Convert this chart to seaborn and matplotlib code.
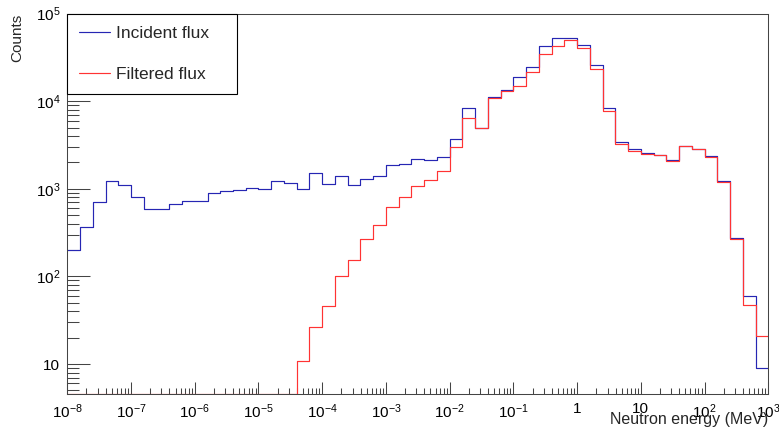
import numpy as np
import pandas as pd
import matplotlib
matplotlib.use("Agg")
import matplotlib.pyplot as plt
import seaborn as sns
from matplotlib.ticker import FixedLocator, FixedFormatter, LogLocator, NullFormatter

# ---------------- data (counts per bin, 5 log bins per decade, 1e-8 .. 1e3 MeV) ----------------
incident_flux = [200, 368, 705, 1234, 1102, 804, 591, 591, 664, 724,
                 724, 900, 934, 967, 1010, 984, 1234, 1152, 993, 1523,
                 1122, 1386, 1102, 1280, 1407, 1878, 1914, 2183, 2127, 2303,
                 3664, 8490, 4890, 11220, 13280, 18690, 24320, 42260, 52970, 52970,
                 44460, 25820, 8280, 3390, 2818, 2537, 2405, 2127, 3097, 2866,
                 2360, 1225, 272, 59.6, 9.06]
filtered_flux = [0, 0, 0, 0, 0, 0, 0, 0, 0, 0,
                 0, 0, 0, 0, 0, 0, 0, 0, 10.8, 26.6,
                 46.1, 102, 153, 267, 385, 624, 798, 1065, 1257, 1603,
                 3013, 6470, 4890, 10940, 12940, 15140, 21320, 34530, 42580, 49820,
                 40110, 23070, 7770, 3238, 2716, 2490, 2405, 2054, 3097, 2866,
                 2317, 1192, 267, 47, 20.8]
series_names = ["Incident flux", "Filtered flux"]
energy_log_range = (-8, 3)
n_bins = 55
count_range = (4.55, 1e5)

xtick_values = [1e-8, 1e-7, 1e-6, 1e-5, 1e-4, 1e-3, 1e-2, 1e-1, 1, 10, 1e2, 1e3]
xtick_labels = [r"$10^{-8}$", r"$10^{-7}$", r"$10^{-6}$", r"$10^{-5}$", r"$10^{-4}$",
                r"$10^{-3}$", r"$10^{-2}$", r"$10^{-1}$", "1", "10",
                r"$10^{2}$", r"$10^{3}$"]
ytick_values = [10, 1e2, 1e3, 1e4, 1e5]
ytick_labels = ["10", r"$10^{2}$", r"$10^{3}$", r"$10^{4}$", r"$10^{5}$"]

# ---------------- style ----------------
sns.set_theme(style="white")
plt.rcParams["font.family"] = ["Liberation Sans", "DejaVu Sans"]
plt.rcParams["mathtext.fontset"] = "custom"
plt.rcParams["mathtext.rm"] = "Liberation Sans"
plt.rcParams["mathtext.it"] = "Liberation Sans:italic"
plt.rcParams["mathtext.bf"] = "Liberation Sans:bold"

fig = plt.figure(figsize=(7.79, 4.32), dpi=100)
ax = fig.add_axes([0.0864, 0.088, 0.8999, 0.8803])

edges = np.logspace(energy_log_range[0], energy_log_range[1], n_bins + 1)


def step_frame(counts, name):
    c = np.asarray(counts, dtype=float)
    c = np.where(c > 0, c, count_range[0])  # empty bins drawn on the axis floor
    return pd.DataFrame({"energy": edges, "counts": np.append(c, c[-1]), "series": name})


colors = ["#2626b3", "#ff3333"]
for counts, name, col in zip([incident_flux, filtered_flux], series_names, colors):
    sns.lineplot(data=step_frame(counts, name), x="energy", y="counts",
                 drawstyle="steps-post", color=col, linewidth=0.85,
                 estimator=None, label=name, ax=ax)

ax.set_xscale("log")
ax.set_yscale("log")
ax.set_xlim(10 ** energy_log_range[0], 10 ** energy_log_range[1])
ax.set_ylim(*count_range)

ax.xaxis.set_major_locator(FixedLocator(xtick_values))
ax.xaxis.set_major_formatter(FixedFormatter(xtick_labels))
ax.xaxis.set_minor_locator(LogLocator(base=10, subs=np.arange(2, 10), numticks=100))
ax.xaxis.set_minor_formatter(NullFormatter())
ax.yaxis.set_major_locator(FixedLocator(ytick_values))
ax.yaxis.set_major_formatter(FixedFormatter(ytick_labels))
ax.yaxis.set_minor_locator(LogLocator(base=10, subs=np.arange(2, 10), numticks=100))
ax.yaxis.set_minor_formatter(NullFormatter())

tick_col = "#444444"
ax.tick_params(axis="x", which="major", direction="in", length=8.4, width=0.75,
               color=tick_col, labelcolor="black", labelsize=11, pad=6,
               top=False, bottom=True)
ax.tick_params(axis="x", which="minor", direction="in", length=4.1, width=0.75,
               color=tick_col, top=False, bottom=True)
ax.tick_params(axis="y", which="major", direction="in", length=16.3, width=0.75,
               color=tick_col, labelcolor="black", labelsize=11, pad=5,
               right=False, left=True)
ax.tick_params(axis="y", which="minor", direction="in", length=8.6, width=0.75,
               color=tick_col, right=False, left=True)

for sp in ax.spines.values():
    sp.set_color(tick_col)
    sp.set_linewidth(0.75)

ax.set_xlabel("Neutron energy (MeV)", fontsize=11.5, loc="right")
ax.xaxis.set_label_coords(1.0, -0.047)
ax.set_ylabel("Counts", fontsize=11, loc="top")
ax.yaxis.set_label_coords(-0.062, 1.0)

leg = ax.legend(loc="upper left", bbox_to_anchor=(0, 1 - 0.2104, 0.2425, 0.2104),
                mode="expand", borderaxespad=0, frameon=True, fancybox=False,
                edgecolor="black", framealpha=1, fontsize=12.5, handlelength=1.75,
                handletextpad=0.35, labelspacing=1.5, borderpad=0.7)
leg.get_frame().set_linewidth(0.8)

fig.savefig("out.png", dpi=100)
